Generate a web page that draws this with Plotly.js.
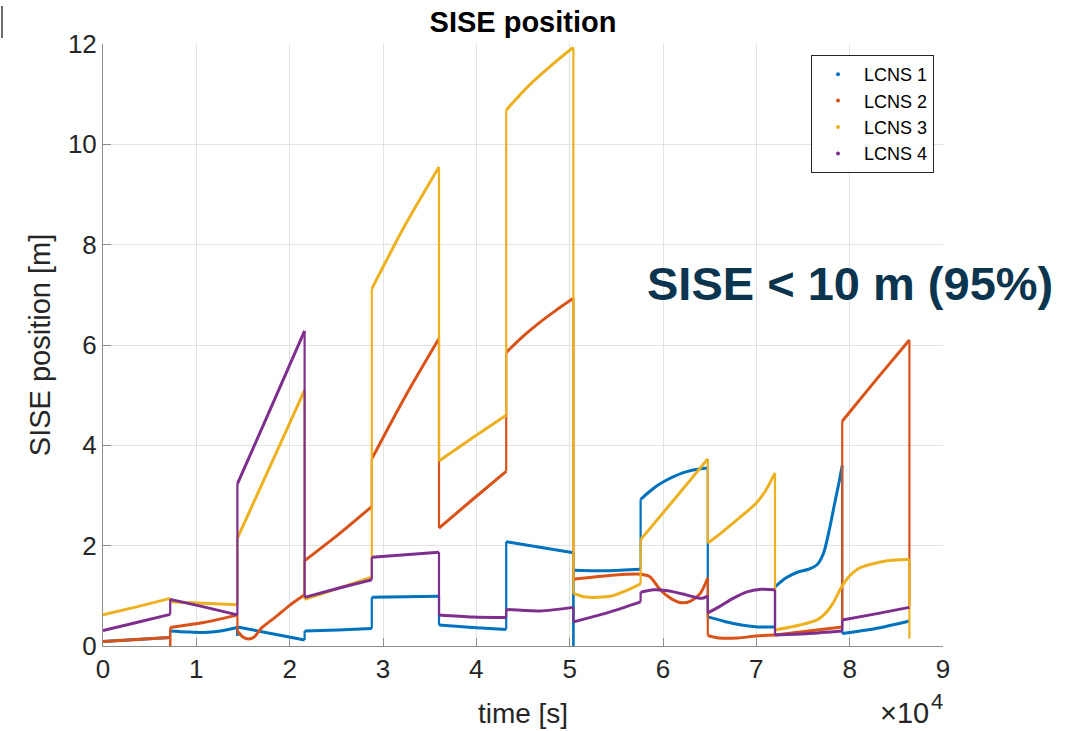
<!DOCTYPE html>
<html>
<head>
<meta charset="utf-8">
<script src="https://cdn.plot.ly/plotly-3.0.1.min.js"></script>
<style>
  html, body { margin: 0; padding: 0; background: #ffffff; }
  #chart { width: 1067px; height: 731px; }
</style>
</head>
<body>
<div id="chart"></div>
<script>
// Time stamps [s] and SISE position [m] for each LCNS; the series restart every 7200 s.
// Repeated time stamps mark the jumps between consecutive 2-hour arcs.
const lcns1T = [0, 7200, 7200, 9000, 10800, 12600, 14400, 14400, 14400, 18000, 21600,
  21600, 25200, 28800, 28800, 32400, 36000, 36000, 39600, 43200, 43200, 46800, 50400,
  50400, 50400, 54000, 57600, 57600, 58500, 59400, 60300, 61200, 62100, 63000, 63900, 64800,
  64800, 66600, 68400, 70200, 72000,
  72000, 73200, 74400, 75600, 76500, 77200, 77800, 78400, 78900, 79200, 79200, 82800, 86400];
const lcns1V = [0.09, 0.17, 0.30, 0.28, 0.27, 0.30, 0.37, 0.20, 0.38, 0.25, 0.12,
  0.30, 0.32, 0.35, 0.97, 0.98, 0.99, 0.42, 0.37, 0.33, 2.08, 1.97, 1.86,
  0.00, 1.51, 1.50, 1.53, 2.92, 3.07, 3.20, 3.30, 3.38, 3.45, 3.50, 3.53, 3.55,
  0.58, 0.49, 0.42, 0.38, 0.38,
  1.18, 1.36, 1.47, 1.53, 1.62, 1.85, 2.30, 2.85, 3.30, 3.60, 0.25, 0.35, 0.50];

const lcns2T = [0, 3600, 7200, 7200, 7200, 9000, 10800, 12600, 14400, 14400, 15000, 15600, 16200,
  17000, 18500, 20000, 21600, 21600, 25200, 28800, 28800, 32400, 36000, 36000, 39600, 43200,
  43200, 45000, 46800, 48600, 50400, 50400, 54000, 57600, 58600, 59700, 61000, 62100, 63000, 64000, 64800,
  64800, 66000, 68000, 70000, 72000, 72000, 75600, 79200, 79200, 82800, 86400, 86400];
const lcns2V = [0.09, 0.13, 0.17, 0.00, 0.37, 0.42, 0.47, 0.54, 0.62, 0.30, 0.18, 0.14, 0.18,
  0.36, 0.58, 0.81, 1.02, 1.70, 2.22, 2.78, 3.73, 4.98, 6.13, 2.35, 2.92, 3.48,
  5.85, 6.17, 6.45, 6.70, 6.93, 1.33, 1.40, 1.43, 1.38, 1.12, 0.93, 0.86, 0.90, 1.05, 1.36,
  0.21, 0.16, 0.16, 0.20, 0.22, 0.22, 0.30, 0.38, 4.48, 5.30, 6.10, 0.80];

const lcns3T = [0, 3600, 7200, 7200, 10800, 14400, 14400, 18000, 21600, 21600, 25200, 28800,
  28800, 32400, 36000, 36000, 39600, 43200, 43200, 44100, 45900, 47700, 49500, 50400,
  50400, 51600, 53000, 54600, 56000, 57600, 57600, 61200, 64800,
  64800, 66000, 67500, 70000, 71000, 72000, 72000, 74700, 76500, 77400, 78200, 79200,
  80000, 81000, 82500, 84000, 86400, 86400];
const lcns3V = [0.62, 0.78, 0.95, 0.88, 0.85, 0.82, 2.15, 3.62, 5.10, 0.93, 1.15, 1.37,
  7.12, 8.40, 9.55, 3.69, 4.15, 4.60, 10.68, 10.87, 11.22, 11.52, 11.80, 11.93,
  1.05, 0.98, 0.97, 1.00, 1.10, 1.24, 2.12, 2.92, 3.73,
  2.05, 2.22, 2.45, 2.85, 3.10, 3.45, 0.32, 0.42, 0.52, 0.65, 0.85, 1.20,
  1.40, 1.55, 1.64, 1.70, 1.73, 0.15];

const lcns4T = [0, 3600, 7200, 7200, 10800, 14400, 14400, 18000, 21600, 21600, 25200, 28800,
  28800, 32400, 36000, 36000, 39600, 43200, 43200, 46800, 50400, 50400, 54000, 57600,
  57600, 59000, 60500, 62000, 63500, 64200, 64800, 64800, 66000, 67500, 69000, 70500, 72000,
  72000, 75600, 79200, 79200, 82800, 86400];
const lcns4V = [0.31, 0.47, 0.63, 0.93, 0.78, 0.62, 3.23, 4.75, 6.28, 0.97, 1.15, 1.32,
  1.77, 1.82, 1.87, 0.62, 0.58, 0.57, 0.73, 0.70, 0.77, 0.48, 0.66, 0.88,
  1.07, 1.12, 1.10, 1.04, 0.97, 0.95, 1.00, 0.66, 0.78, 0.95, 1.08, 1.13, 1.12,
  0.22, 0.25, 0.30, 0.52, 0.64, 0.77];

const seriesNames = ['LCNS 1', 'LCNS 2', 'LCNS 3', 'LCNS 4'];
const seriesColors = ['#0072BD', '#D95319', '#EDB120', '#7E2F8E'];
const timeSeries = [lcns1T, lcns2T, lcns3T, lcns4T];
const valueSeries = [lcns1V, lcns2V, lcns3V, lcns4V];

const xTickVals = [0, 10000, 20000, 30000, 40000, 50000, 60000, 70000, 80000, 90000];
const xTickText = ['0', '1', '2', '3', '4', '5', '6', '7', '8', '9'];
const yTickVals = [0, 2, 4, 6, 8, 10, 12];

// Split a series into smooth arcs (increasing time) and the vertical jumps between them.
function splitSeries(t, v) {
  const arcX = [], arcY = [], jumpX = [], jumpY = [];
  let curX = [t[0]], curY = [v[0]];
  for (let i = 1; i < t.length; i++) {
    if (t[i] === t[i - 1]) {
      jumpX.push(t[i - 1], t[i], null);
      jumpY.push(v[i - 1], v[i], null);
      if (curX.length) { arcX.push(...curX, null); arcY.push(...curY, null); }
      curX = [t[i]]; curY = [v[i]];
    } else {
      curX.push(t[i]); curY.push(v[i]);
    }
  }
  arcX.push(...curX); arcY.push(...curY);
  return { arcX, arcY, jumpX, jumpY };
}

const traces = [];
seriesNames.forEach((name, i) => {
  const s = splitSeries(timeSeries[i], valueSeries[i]);
  traces.push({
    x: s.jumpX, y: s.jumpY, type: 'scatter', mode: 'lines',
    line: { color: seriesColors[i], width: 2.2 },
    connectgaps: false, showlegend: false, hoverinfo: 'skip'
  });
  traces.push({
    x: s.arcX, y: s.arcY, type: 'scatter', mode: 'lines',
    line: { color: seriesColors[i], width: 3, shape: 'spline', smoothing: 0.8 },
    connectgaps: false, showlegend: false, hoverinfo: 'skip'
  });
});
// Legend entries are drawn as small dots
seriesNames.forEach((name, i) => {
  traces.push({
    x: [null], y: [null], type: 'scatter', mode: 'markers', name: name,
    marker: { color: seriesColors[i], size: 4 }
  });
});

const textColor = '#262626';
const layout = {
  width: 1067, height: 731,
  margin: { l: 103, r: 124, t: 44, b: 85 },
  paper_bgcolor: '#ffffff', plot_bgcolor: '#ffffff',
  font: { family: 'Liberation Sans, Arial, sans-serif', color: textColor },
  title: {
    text: '<b>SISE position</b>',
    font: { size: 29, color: '#000000' },
    x: 0.5, xref: 'paper', xanchor: 'center',
    y: 1 - 22 / 731, yref: 'container', yanchor: 'middle'
  },
  xaxis: {
    range: [0, 90000], tickvals: xTickVals, ticktext: xTickText,
    ticks: 'inside', ticklen: 8, tickcolor: '#8c8c8c', tickwidth: 1,
    showline: true, linecolor: '#8c8c8c', linewidth: 1,
    showgrid: true, gridcolor: '#e3e3e3', gridwidth: 1, zeroline: false,
    tickfont: { size: 26, color: textColor },
    title: { text: 'time [s]', font: { size: 28, color: textColor }, standoff: 20 }
  },
  yaxis: {
    range: [0, 12], tickvals: yTickVals,
    ticks: 'inside', ticklen: 8, tickcolor: '#8c8c8c', tickwidth: 1,
    showline: true, linecolor: '#8c8c8c', linewidth: 1,
    showgrid: true, gridcolor: '#e3e3e3', gridwidth: 1, zeroline: false,
    tickfont: { size: 26, color: textColor },
    title: { text: 'SISE position [m]', font: { size: 29, color: textColor }, standoff: 8 }
  },
  legend: {
    x: (811 - 103) / 840, y: 1 - (55 - 44) / 602, xanchor: 'left', yanchor: 'top',
    bgcolor: '#ffffff', bordercolor: '#262626', borderwidth: 1,
    font: { size: 18, color: '#000000' }, itemwidth: 42, tracegroupgap: 0
  },
  annotations: [
    {
      text: '<b>SISE &lt; 10 m (95%)</b>', showarrow: false,
      xref: 'paper', yref: 'paper', x: (850 - 103) / 840, y: 1 - (283 - 44) / 602,
      xanchor: 'center', yanchor: 'middle',
      font: { size: 47, color: '#0b344f', family: 'Liberation Sans, Arial, sans-serif' }
    },
    // axis multiplier: ×10 with a raised exponent
    {
      text: '×10', showarrow: false, borderpad: 0,
      xref: 'paper', yref: 'paper', x: (930 - 103) / 840, y: 1 - (713 - 44) / 602,
      xanchor: 'right', yanchor: 'middle',
      font: { size: 29, color: textColor }
    },
    {
      text: '4', showarrow: false, borderpad: 0,
      xref: 'paper', yref: 'paper', x: (930 - 103) / 840, y: 1 - (701 - 44) / 602,
      xanchor: 'left', yanchor: 'middle',
      font: { size: 22, color: textColor }
    }
  ],
  shapes: [
    {
      type: 'line', xref: 'paper', yref: 'paper',
      x0: (2 - 103) / 840, x1: (2 - 103) / 840,
      y0: 1 - (6 - 44) / 602, y1: 1 - (38 - 44) / 602,
      line: { color: '#6e6e6e', width: 2 }
    }
  ]
};

Plotly.newPlot('chart', traces, layout, { displayModeBar: false, staticPlot: true });
</script>
</body>
</html>
